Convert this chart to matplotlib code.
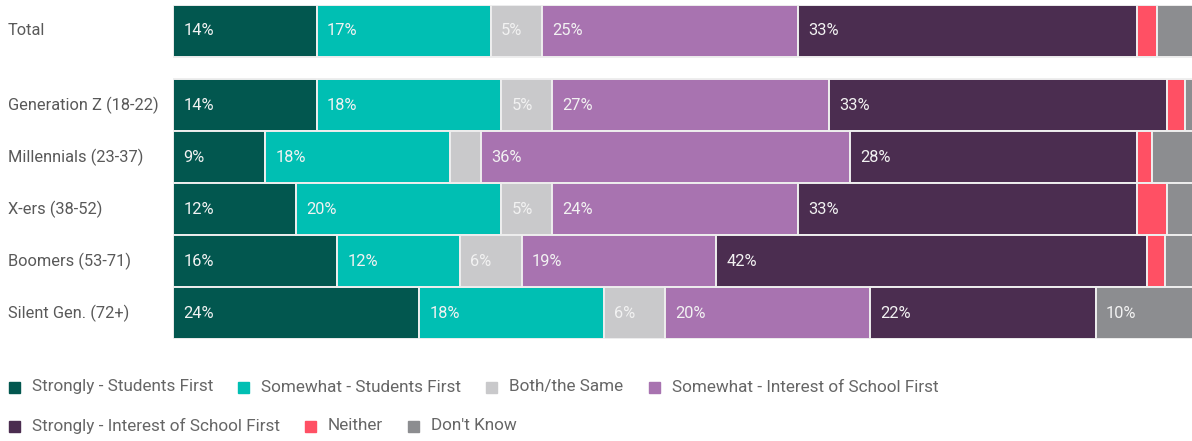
import numpy as np
import matplotlib.pyplot as plt
from matplotlib.patches import Rectangle
from matplotlib.transforms import blended_transform_factory

plt.rcParams['font.family'] = ['Roboto', 'DejaVu Sans']

# survey groups, top to bottom
groups = ['Total', 'Generation Z (18-22)', 'Millennials (23-37)', 'X-ers (38-52)',
          'Boomers (53-71)', 'Silent Gen. (72+)']

answers = ['Strongly - Students First', 'Somewhat - Students First', 'Both/the Same',
           'Somewhat - Interest of School First', 'Strongly - Interest of School First',
           'Neither', "Don't Know"]

# percent per answer, one list per answer in group order
strongly_students = [14, 14, 9, 12, 16, 24]
somewhat_students = [17, 18, 18, 20, 12, 18]
both_same = [5, 5, 3, 5, 6, 6]
somewhat_school = [25, 27, 36, 24, 19, 20]
strongly_school = [33, 33, 28, 33, 42, 22]
neither = [2, 1.7, 1.5, 3, 1.8, 0]
dont_know = [4, 1.3, 4.5, 3, 3.2, 10]

series = [strongly_students, somewhat_students, both_same, somewhat_school,
          strongly_school, neither, dont_know]
colors = ['#02574f', '#00bfb3', '#c9c9cb', '#a873b0', '#4b2d50', '#ff5064', '#8c8d90']

W, H = 1192, 441
fig = plt.figure(figsize=(W / 100, H / 100), dpi=100)
ax = fig.add_axes([173 / W, (H - 339) / H, 1 - 173 / W, 334 / H])

# Total sits a little apart from the generation rows
ypos = [5.43, 4, 3, 2, 1, 0]

left = np.zeros(len(groups))
for vals, col in zip(series, colors):
    vals = np.array(vals, dtype=float)
    ax.barh(ypos, vals, left=left, height=1.0, color=col,
            edgecolor='#eeeeee', linewidth=1.4)
    for y, l, v in zip(ypos, left, vals):
        if v >= 5:
            ax.text(l + 1.0, y, f'{v:.0f}%', color='#f2f2f2', fontsize=11.8,
                    va='center', ha='left')
    left += vals

ax.set_xlim(0, 99.4)
ax.set_ylim(-0.5, 5.93)
ax.axis('off')

# group names on the left
trans = blended_transform_factory(fig.transFigure, ax.transData)
for y, g in zip(ypos, groups):
    ax.text(8 / W, y, g, transform=trans, fontsize=11.8, color='#595959',
            va='center', ha='left')

# legend laid out as flowing text, two lines
fig.canvas.draw()
renderer = fig.canvas.get_renderer()
rows = [answers[:4], answers[4:]]
row_y = [387, 426]
k = 0
for names, yy in zip(rows, row_y):
    x = 9
    for name in names:
        fig.patches.append(Rectangle((x / W, (H - yy - 5.5) / H), 11 / W, 11 / H,
                                     transform=fig.transFigure, color=colors[k]))
        t = fig.text((x + 23) / W, (H - yy) / H, name, fontsize=12.3, color='#666666',
                     va='center', ha='left')
        bb = t.get_window_extent(renderer)
        x = bb.x1 + 25
        k += 1

fig.savefig('out.png', dpi=100)
